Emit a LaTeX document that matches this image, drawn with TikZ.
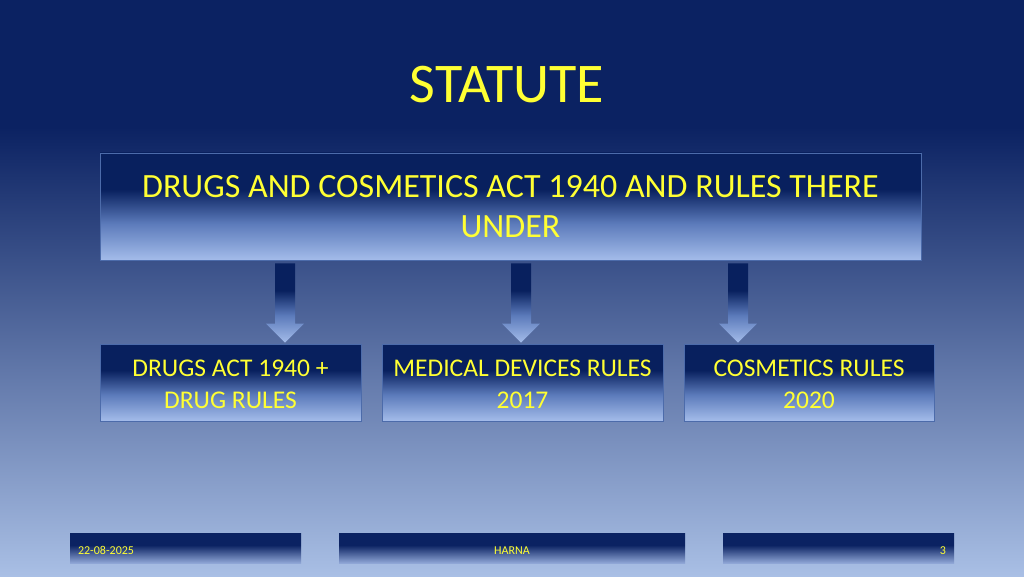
\documentclass[tikz,border=0pt]{standalone}
\usepackage{fontspec}
\setmainfont{Carlito}
\usetikzlibrary{calc}
\definecolor{navy}{HTML}{0B2262}
\definecolor{bglight}{HTML}{A9BFE5}
\definecolor{boxnavy}{HTML}{08205E}
\definecolor{boxmid}{HTML}{5C7BBB}
\definecolor{boxlight}{HTML}{A4BCEA}
\definecolor{footlight}{HTML}{8FA6D6}
\definecolor{edgeblue}{HTML}{4C6BAA}
\definecolor{txt}{HTML}{FFFF33}
\pgfdeclareverticalshading{bgsh}{100bp}{color(0bp)=(bglight); color(25bp)=(bglight); color(64bp)=(navy); color(100bp)=(navy)}
\pgfdeclareverticalshading{boxsh}{100bp}{color(0bp)=(boxlight); color(25bp)=(boxlight); color(42bp)=(boxmid); color(58bp)=(boxnavy); color(100bp)=(boxnavy)}
\pgfdeclareverticalshading{footsh}{100bp}{color(0bp)=(footlight); color(25bp)=(footlight); color(55bp)=(navy); color(100bp)=(navy)}
\tikzset{
  bigbox/.style={shading=boxsh, draw=edgeblue, line width=0.8pt, inner sep=0pt, align=center, text=txt},
  toptext/.style={font=\fontsize{34}{40}\selectfont},
  subtext/.style={font=\fontsize{25.5}{31.5}\selectfont},
  footbox/.style={shading=footsh, draw=none, inner sep=0pt},
  foottext/.style={text=txt, inner sep=0pt, font=\fontsize{12}{14}\selectfont}
}
\newcommand{\blockarrow}[3]{%
  \shade[shading=boxsh] let \p1=(#2.south), \p2=(#3.north) in
    (#1-10,\y1-3) -- (#1+10,\y1-3) -- (#1+10,\y2+20) -- (#1+19,\y2+20) --
    (#1,\y2+1) -- (#1-19,\y2+20) -- (#1-10,\y2+20) -- cycle;}
\begin{document}
\begin{tikzpicture}[x=1pt,y=1pt]
  \shade[shading=bgsh] (0,0) rectangle (1024,576);
  \useasboundingbox (0,0) rectangle (1024,576);
  % title
  \node[text=txt, inner sep=0pt, font=\fontsize{56}{66}\selectfont] (title) at (507,491.5) {STATUTE};
  % top box
  \node[bigbox, toptext, minimum width=821pt, minimum height=107pt] (top) at (510.5,369.5)
    {DRUGS AND COSMETICS ACT 1940 AND RULES THERE\\UNDER};
  % bottom boxes
  \node[bigbox, subtext, minimum width=261pt, minimum height=77pt] (b1) at (230.5,193.5) {};
  \node[bigbox, subtext, minimum width=281pt, minimum height=77pt] (b2) at (522.5,193.5) {};
  \node[bigbox, subtext, minimum width=250pt, minimum height=77pt] (b3) at (809,193.5) {};
  \node[subtext, text=txt, align=center, inner sep=0pt] (t1) at ([yshift=-2pt]b1.center) {DRUGS ACT 1940 +\\DRUG RULES};
  \node[subtext, text=txt, align=center, inner sep=0pt] (t2) at ([yshift=-2pt]b2.center) {MEDICAL DEVICES RULES\\2017};
  \node[subtext, text=txt, align=center, inner sep=0pt] (t3) at ([yshift=-2pt]b3.center) {COSMETICS RULES\\2020};
  % block arrows
  \blockarrow{285}{top}{b1}
  \blockarrow{521}{top}{b2}
  \blockarrow{738}{top}{b3}
  % footer
  \node[footbox, minimum width=231pt, minimum height=30pt] (f1) at (185.5,28) {};
  \node[footbox, minimum width=346pt, minimum height=30pt] (f2) at (512,28) {};
  \node[footbox, minimum width=231pt, minimum height=30pt] (f3) at (838.5,28) {};
  \node[foottext, anchor=base west] (fdate) at ([xshift=8pt]f1.west |- 0,22) {22-08-2025};
  \node[foottext, anchor=base] (fname) at (f2.center |- 0,22) {HARNA};
  \node[foottext, anchor=base east] (fnum) at ([xshift=-8pt]f3.east |- 0,22) {3};
\end{tikzpicture}
\end{document}
